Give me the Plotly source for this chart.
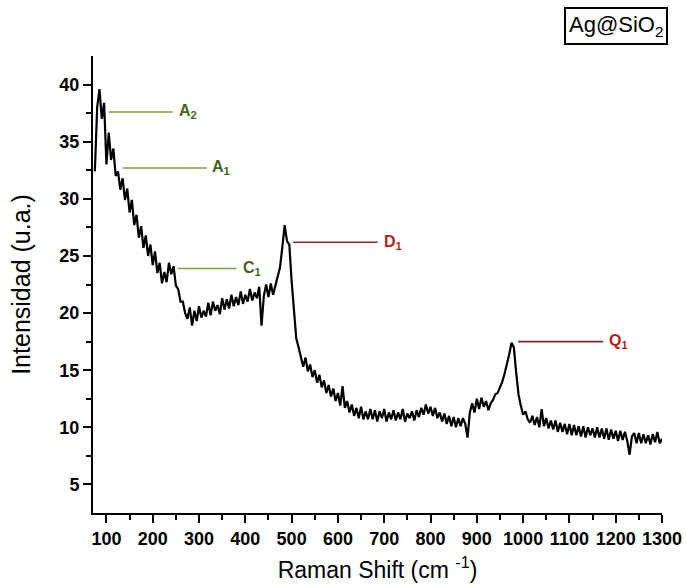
import plotly.graph_objects as go

# Raman spectrum of Ag@SiO2, sampled every 5 cm-1 from 75 to 1300 cm-1
raman_shift = list(range(75, 1301, 5))

intensity = [
    # 75 - 120
    32.4, 38.0, 39.6, 37.0, 38.4, 33.0, 35.8, 33.4, 34.4, 32.0,
    # 125 - 170
    32.4, 30.8, 31.8, 29.9, 30.9, 28.8, 29.9, 27.7, 28.6, 26.6,
    # 175 - 220
    27.6, 25.7, 26.8, 25.0, 26.0, 24.2, 25.4, 23.5, 24.4, 22.6,
    # 225 - 270
    23.6, 22.7, 24.4, 23.4, 24.1, 22.4, 22.1, 21.0, 21.0, 20.0,
    # 275 - 320
    19.5, 20.5, 18.9, 20.2, 19.3, 20.6, 19.6, 20.2, 19.7, 20.9,
    # 325 - 370
    19.8, 21.0, 20.2, 20.7, 19.9, 21.3, 20.3, 21.2, 20.4, 21.6,
    # 375 - 420
    20.6, 21.4, 20.7, 21.9, 20.8, 21.6, 21.0, 22.1, 21.1, 21.8,
    # 425 - 470
    21.3, 22.3, 18.9, 21.5, 22.5, 21.4, 22.6, 21.6, 22.4, 23.3,
    # 475 - 520
    24.0, 25.8, 27.7, 26.3, 26.0, 22.8, 20.0, 17.8, 17.0, 16.2,
    # 525 - 570
    15.3, 16.1, 14.9, 15.5, 14.4, 15.0, 13.9, 14.6, 13.5, 14.1,
    # 575 - 620
    13.0, 13.7, 12.7, 13.4, 12.3, 13.0, 11.9, 13.6, 11.7, 12.3,
    # 625 - 670
    11.3, 12.0, 11.0, 11.7, 10.8, 11.8, 10.7, 11.4, 10.7, 11.6,
    # 675 - 720
    10.7, 11.5, 10.5, 11.4, 10.8, 11.6, 10.5, 11.3, 10.7, 11.5,
    # 725 - 770
    10.6, 11.3, 10.7, 11.6, 10.5, 11.2, 10.8, 11.4, 10.6, 11.5,
    # 775 - 820
    10.9, 11.7, 11.1, 12.0, 11.2, 11.8, 11.0, 11.7, 10.8, 11.3,
    # 825 - 870
    10.5, 11.2, 10.3, 11.0, 10.1, 10.9, 10.0, 10.8, 10.1, 10.8,
    # 875 - 920
    10.3, 9.1, 11.3, 12.1, 11.3, 12.5, 11.6, 12.6, 11.8, 12.3,
    # 925 - 970
    11.5, 12.1, 12.4, 12.9, 13.0, 13.5, 14.0, 14.7, 15.5, 16.4,
    # 975 - 1020
    17.4, 17.0, 14.8, 12.9, 11.9, 11.1, 11.4, 10.7, 10.4, 11.0,
    # 1025 - 1070
    10.2, 10.9, 10.0, 11.6, 10.1, 10.8, 9.9, 10.6, 9.8, 10.6,
    # 1075 - 1120
    9.6, 10.4, 9.6, 10.3, 9.4, 10.3, 9.3, 10.2, 9.3, 10.1,
    # 1125 - 1170
    9.2, 10.1, 9.1, 10.0, 9.3, 9.9, 9.1, 10.0, 9.1, 9.9,
    # 1175 - 1220
    9.0, 9.9, 8.9, 9.8, 9.0, 9.7, 8.8, 9.7, 8.9, 9.6,
    # 1225 - 1270
    8.8, 7.6, 9.2, 9.5, 8.6, 9.5, 8.6, 9.4, 8.6, 9.3,
    # 1275 - 1300
    8.5, 9.4, 8.7, 9.6, 8.6, 9.0,
]

# Band assignments: label, guide start / end (cm-1), guide level (u.a.)
band_labels = ["A<sub>2</sub>", "A<sub>1</sub>", "C<sub>1</sub>", "D<sub>1</sub>", "Q<sub>1</sub>"]
band_start = [105, 135, 254, 503, 989]
band_end = [243, 316, 381, 686, 1173]
band_level = [37.6, 32.7, 23.9, 26.2, 17.5]
band_line_colors = ["#7a9e45", "#7a9e45", "#7a9e45", "#8e2a2a", "#7e2b2b"]
band_text_colors = ["#46641c", "#46641c", "#46641c", "#b21f1f", "#b21f1f"]

x_ticks = list(range(100, 1301, 100))
y_ticks = [5, 10, 15, 20, 25, 30, 35, 40]

fig = go.Figure()
fig.add_trace(go.Scatter(
    x=raman_shift, y=intensity, mode="lines",
    line=dict(color="black", width=2.2), showlegend=False,
))

for lab, x0, x1, lvl, lc, tc in zip(band_labels, band_start, band_end, band_level,
                                    band_line_colors, band_text_colors):
    fig.add_shape(type="line", xref="x", yref="y", x0=x0, x1=x1, y0=lvl, y1=lvl,
                  line=dict(color=lc, width=1.6))
    fig.add_annotation(x=x1, y=lvl, xref="x", yref="y", text=lab, showarrow=False,
                       xanchor="left", yanchor="middle", xshift=4,
                       font=dict(family="Arial, Liberation Sans", size=16, color=tc,
                                 weight="bold"))

fig.add_annotation(x=0.92, y=1.066, xref="paper", yref="paper",
                   text="Ag@SiO<sub>2</sub>", showarrow=False,
                   xanchor="center", yanchor="middle",
                   font=dict(family="Arial, Liberation Sans", size=22, color="black"),
                   bordercolor="black", borderwidth=2, borderpad=3, bgcolor="white")

axis_font = dict(family="Arial, Liberation Sans", size=18, color="black", weight="bold")
fig.update_xaxes(
    range=[71, 1300], tickvals=x_ticks, ticks="outside", ticklen=8, tickwidth=2,
    tickcolor="black", showline=True, linecolor="black", linewidth=2,
    showgrid=False, zeroline=False, tickfont=axis_font, automargin=False,
    minor=dict(tickvals=list(range(150, 1300, 100)), ticks="outside", ticklen=5,
               tickwidth=2, tickcolor="black"),
    title=dict(text="Raman Shift (cm <sup>-1</sup>)", standoff=14,
               font=dict(family="Arial, Liberation Sans", size=23, color="black")),
)
fig.update_yaxes(
    range=[2.5, 42.5], tickvals=y_ticks, ticks="outside", ticklen=8, tickwidth=2,
    tickcolor="black", showline=True, linecolor="black", linewidth=2,
    showgrid=False, zeroline=False, tickfont=axis_font, automargin=False,
    minor=dict(tickvals=[7.5, 12.5, 17.5, 22.5, 27.5, 32.5, 37.5], ticks="outside",
               ticklen=5, tickwidth=2, tickcolor="black"),
    title=dict(text="Intensidad (u.a.)", standoff=22,
               font=dict(family="Arial, Liberation Sans", size=25, color="black")),
)

fig.update_layout(
    width=686, height=587,
    margin=dict(l=93, r=24, t=56, b=74),
    paper_bgcolor="white", plot_bgcolor="white",
)

fig.write_html("out.html")
